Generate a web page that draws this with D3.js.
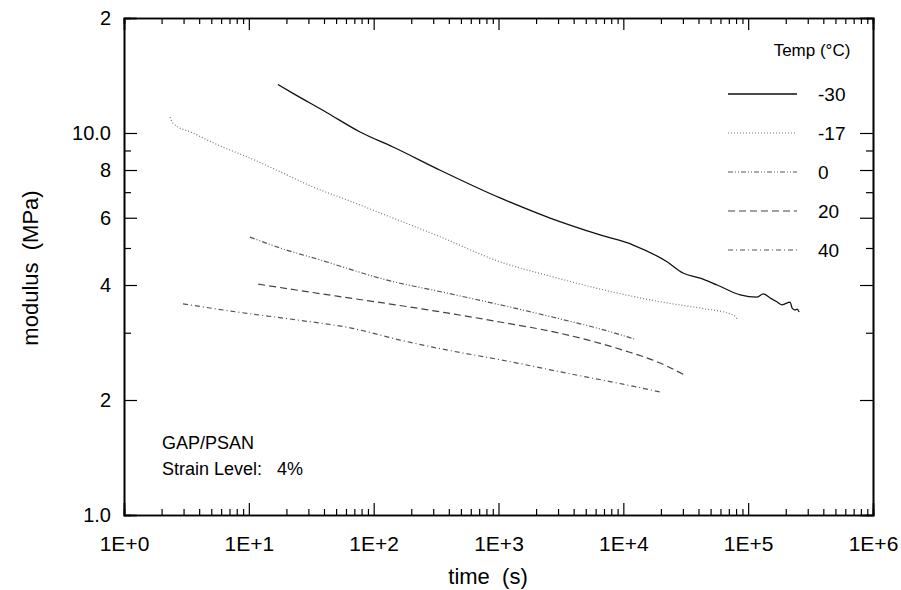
<!DOCTYPE html>
<html>
<head>
<meta charset="utf-8">
<script src="https://cdn.jsdelivr.net/npm/d3@7"></script>
<style>
  body { margin: 0; background: #fff; }
  text { font-family: "Liberation Sans", Arial, sans-serif; fill: #000; }
</style>
</head>
<body>
<div id="wrapper"></div>
<script>
// data: time (s) and modulus (MPa) per temperature
const tempLabels = ["-30", "-17", "0", "20", "40"];

const timeN30 = [17.1, 22.6, 42.3, 77.8, 143, 341, 1030, 2590, 6520, 12000, 22400, 30100, 41200, 56400, 86300, 118000, 132000, 150000, 171000, 187000, 217000, 225000, 238000, 247000, 256000];
const modN30  = [13.4, 12.7, 11.3, 10.06, 9.19, 7.99, 6.76, 5.99, 5.41, 5.09, 4.60, 4.30, 4.17, 4.00, 3.77, 3.72, 3.79, 3.70, 3.61, 3.55, 3.61, 3.48, 3.44, 3.46, 3.40];

const timeN17 = [2.34, 2.47, 3.57, 5.88, 10.2, 18.8, 32.7, 61.3, 112, 341, 1030, 2590, 7550, 22400, 41200, 75800, 81700];
const modN17  = [11.0, 10.6, 10.0, 9.25, 8.60, 7.85, 7.22, 6.68, 6.18, 5.35, 4.60, 4.22, 3.86, 3.59, 3.48, 3.34, 3.26];

const time0 = [10.2, 18.8, 35.2, 128, 387, 1030, 3120, 6520, 12200];
const mod0  = [5.34, 4.97, 4.68, 4.12, 3.81, 3.55, 3.26, 3.07, 2.89];

const time20 = [11.9, 50.9, 119, 387, 1030, 3120, 9960, 19700, 31300];
const mod20  = [4.02, 3.74, 3.59, 3.38, 3.20, 2.99, 2.70, 2.50, 2.32];

const time40 = [2.97, 8.04, 24.3, 64.7, 163, 394, 1030, 3120, 9960, 19700];
const mod40  = [3.57, 3.40, 3.24, 3.09, 2.87, 2.70, 2.55, 2.37, 2.20, 2.10];

const xTicks = [1, 10, 100, 1000, 10000, 100000, 1000000];
const xTickLabels = ["1E+0", "1E+1", "1E+2", "1E+3", "1E+4", "1E+5", "1E+6"];
const yTicks = [1, 2, 4, 6, 8, 10, 20];
const yTickLabels = ["1.0", "2", "4", "6", "8", "10.0", "2"];
const yMinor = [3, 5, 7, 9];

const seriesTimes = [timeN30, timeN17, time0, time20, time40];
const seriesMods = [modN30, modN17, mod0, mod20, mod40];

// line looks
const dashes = ["none", "1,2", "5,2,1,2,1,2", "7,4", "5,3,1,3"];
const strokes = ["#111", "#777", "#555", "#444", "#555"];

function drawChart() {
    let dimensions = {
        width: 901,
        height: 590,
        margin: { top: 18, right: 28, bottom: 75, left: 124 },
    }
    dimensions.boundedWidth = dimensions.width - dimensions.margin.left - dimensions.margin.right
    dimensions.boundedHeight = dimensions.height - dimensions.margin.top - dimensions.margin.bottom

    const wrapper = d3.select("#wrapper")
        .append("svg")
        .attr("width", dimensions.width)
        .attr("height", dimensions.height);

    const bounds = wrapper.append("g")
        .attr("transform", `translate(${dimensions.margin.left},${dimensions.margin.top})`);

    const xScaler = d3.scaleLog()
        .domain([1, 1e6])
        .range([0, dimensions.boundedWidth]);

    const yScaler = d3.scaleLog()
        .domain([1, 20])
        .range([dimensions.boundedHeight, 0]);

    // minor x ticks, 2..9 in every decade
    const xMinor = [];
    for (let p = 0; p < 6; p++) {
        for (let k = 2; k <= 9; k++) xMinor.push(k * Math.pow(10, p));
    }

    // bottom axis
    const xAxis = bounds.append("g")
        .attr("transform", `translate(0,${dimensions.boundedHeight})`)
        .call(d3.axisBottom(xScaler).tickValues(xTicks).tickSize(-12).tickPadding(20)
            .tickFormat((d, i) => xTickLabels[i]));
    xAxis.append("g")
        .call(d3.axisBottom(xScaler).tickValues(xMinor).tickSize(-6).tickFormat(""));

    // top axis
    const xTop = bounds.append("g")
        .call(d3.axisTop(xScaler).tickValues(xTicks).tickSize(-12).tickFormat(""));
    xTop.append("g")
        .call(d3.axisTop(xScaler).tickValues(xMinor).tickSize(-6).tickFormat(""));

    // left axis
    const yAxis = bounds.append("g")
        .call(d3.axisLeft(yScaler).tickValues(yTicks).tickSize(-13).tickPadding(13)
            .tickFormat((d, i) => yTickLabels[i]));
    yAxis.append("g")
        .call(d3.axisLeft(yScaler).tickValues(yMinor).tickSize(-7).tickFormat(""));

    // right axis
    const yRight = bounds.append("g")
        .attr("transform", `translate(${dimensions.boundedWidth},0)`)
        .call(d3.axisRight(yScaler).tickValues(yTicks).tickSize(-13).tickFormat(""));
    yRight.append("g")
        .call(d3.axisRight(yScaler).tickValues(yMinor).tickSize(-7).tickFormat(""));

    bounds.selectAll(".domain").attr("stroke", "#000").attr("stroke-width", 1.6);
    bounds.selectAll(".tick line").attr("stroke", "#000").attr("stroke-width", 1.2);
    bounds.selectAll(".tick text")
        .attr("font-family", "Liberation Sans, Arial, sans-serif")
        .attr("fill", "#000");
    xAxis.selectAll(".tick text").attr("font-size", "21px").attr("dy", "0.75em");
    yAxis.selectAll(".tick text").attr("font-size", "20px");

    // the curves
    const lineGen = d3.line()
        .x(d => xScaler(d[0]))
        .y(d => yScaler(d[1]))
        .curve(d3.curveMonotoneX);

    seriesTimes.forEach((times, i) => {
        bounds.append("path")
            .datum(d3.zip(times, seriesMods[i]))
            .attr("d", lineGen)
            .attr("fill", "none")
            .attr("stroke", strokes[i])
            .attr("stroke-width", i == 0 ? 1.3 : 1.2)
            .attr("stroke-dasharray", dashes[i]);
    });

    // legend
    const legend = wrapper.append("g");
    legend.append("text")
        .attr("x", 812)
        .attr("y", 50)
        .attr("dy", "0.35em")
        .attr("text-anchor", "middle")
        .attr("font-size", "17px")
        .text("Temp (°C)");

    tempLabels.forEach((label, i) => {
        const ly = 94 + i * 39;
        legend.append("line")
            .attr("x1", 728).attr("x2", 797)
            .attr("y1", ly).attr("y2", ly)
            .attr("stroke", strokes[i])
            .attr("stroke-width", i == 0 ? 1.3 : 1.2)
            .attr("stroke-dasharray", dashes[i]);
        legend.append("text")
            .attr("x", 818)
            .attr("y", ly)
            .attr("dy", "0.35em")
            .attr("font-size", "19px")
            .text(label);
    });

    // annotation
    wrapper.append("text")
        .attr("x", 162).attr("y", 443).attr("dy", "0.35em")
        .attr("font-size", "18px")
        .text("GAP/PSAN");
    wrapper.append("text")
        .attr("x", 162).attr("y", 469).attr("dy", "0.35em")
        .attr("font-size", "18px")
        .style("white-space", "pre")
        .text("Strain Level:   4%");

    // axis titles
    wrapper.append("text")
        .attr("x", 488)
        .attr("y", 576)
        .attr("dy", "0.35em")
        .attr("text-anchor", "middle")
        .attr("font-size", "22px")
        .style("white-space", "pre")
        .text("time  (s)");

    wrapper.append("text")
        .attr("transform", "translate(30,268) rotate(-90)")
        .attr("dy", "0.35em")
        .attr("text-anchor", "middle")
        .attr("font-size", "22px")
        .style("white-space", "pre")
        .text("modulus  (MPa)");
}

drawChart();
</script>
</body>
</html>
